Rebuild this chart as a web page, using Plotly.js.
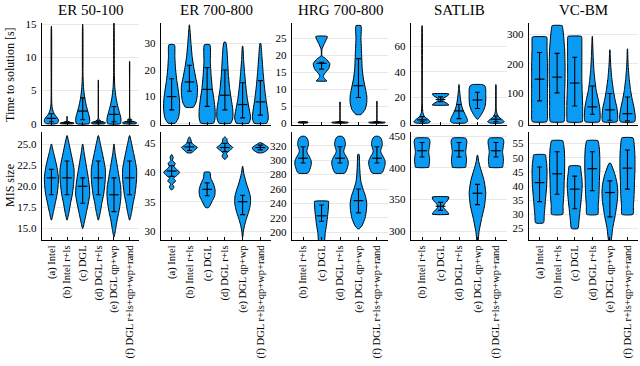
<!DOCTYPE html>
<html><head><meta charset="utf-8">
<script src="https://cdn.plot.ly/plotly-3.0.1.min.js"></script>
<style>html,body{margin:0;padding:0;background:#fff}#chart{width:640px;height:366px}</style>
</head><body><div id="chart"></div>
<script>
// ---------- DATA ----------
const categories = ["(a) Intel","(b) Intel r+ls","(c) DGL","(d) DGL r+ls","(e) DGL qp+wp","(f) DGL r+ls+qp+wp+rand"];
const categoriesNoA = categories.slice(1);
const panelTitles = ["ER 50-100","ER 700-800","HRG 700-800","SATLIB","VC-BM"];

// Each violin: profile levels (Y), relative half-widths (W), and [low, centre, high] of its bar.
// --- Time to solution [s] ---
const er50TimeY = [[0,0.2,0.6,1.0,1.5,2.2,3.0,5,14.7],[0,0.1,0.25,0.5,1.1],[0,0.4,1.0,1.8,2.8,4.0,5.5,7.3,15],[0,0.15,0.4,0.8,6.6],[0,0.4,1.0,1.8,2.8,4.0,5.5,7.5,15.2],[0,0.15,0.4,0.9,9.4]];
const er50TimeW = [[0.7,0.95,1.0,0.75,0.4,0.15,0.06,0.03,0.01],[0.9,1.0,0.3,0.04,0.01],[0.9,1.0,0.95,0.75,0.5,0.28,0.12,0.05,0.01],[0.9,1.0,0.3,0.04,0.01],[0.9,1.0,0.95,0.75,0.5,0.28,0.12,0.05,0.01],[0.9,1.0,0.3,0.04,0.01]];
const er50TimeStats = [[0.3,0.8,1.5],[0.05,0.15,0.3],[0.6,1.9,3.9],[0.1,0.25,0.45],[0.3,1.4,2.6],[0.1,0.3,0.6]];

const er700TimeY = [[0,2,5,8,12,16,20,25,29.5],[6,8,11,14,17,21,25,30,34,37],[0,2,5,9,13,18,23,29.5],[0,2,5,9,13,18,23,28,30.5],[0,2,5,9,14,19,24,29],[0,2,5,9,14,19,25,30]];
const er700TimeW = [[0.45,0.85,1.0,1.0,0.85,0.65,0.5,0.4,0.35],[0.5,0.85,1.0,1.0,0.8,0.55,0.35,0.2,0.1,0.01],[0.8,1.0,1.0,0.85,0.65,0.5,0.4,0.35],[0.75,1.0,1.0,0.8,0.6,0.45,0.35,0.25,0.1],[0.8,1.0,0.85,0.6,0.4,0.25,0.12,0.02],[0.8,1.0,0.9,0.7,0.5,0.35,0.2,0.05]];
const er700TimeStats = [[5,10,16.7],[12,15.5,21.8],[6.3,12.7,20.9],[5,10.5,20],[2,7,15.2],[3,8,16]];

const hrgTimeY = [[0.05,0.2,0.4],[12.4,13.0,13.7,14.5,16,17.5,19,19.8,21.7,23.5,25.5],[0,0.2,0.5,6.2],[2.5,4,6,8,10,13,16,19,22,25,28.7],[0,0.2,0.5,6.4]];
const hrgTimeW = [[0.6,0.6,0.05],[0.65,0.4,0.2,0.35,0.85,1.0,0.5,0.05,0.05,0.35,0.7],[0.9,1.0,0.05,0.02],[0.3,0.8,1.0,1.0,0.85,0.6,0.45,0.4,0.35,0.3,0.3],[0.9,1.0,0.05,0.02]];
const hrgTimeStats = [[0.1,0.2,0.3],[15.9,17.6,17.9],[0.1,0.2,0.35],[7.5,11,19],[0.1,0.2,0.35]];

const satTimeY = [[0,1,3,5,8,15,76],[14.1,15.5,17,18.4,19.5,21,22.7],[0,1,3,6,10,14,18,22,26,30],[3,6,10,14,18,22,26,29,30],[0,1,3,5,8,12,30]];
const satTimeW = [[0.7,1.0,0.7,0.3,0.1,0.03,0.01],[1.0,0.75,0.35,0.25,0.35,0.8,1.0],[0.7,1.0,1.0,0.8,0.5,0.3,0.2,0.12,0.06,0.01],[0.05,0.4,0.75,0.95,1.0,1.0,1.0,0.9,0.6],[0.7,1.0,0.7,0.3,0.1,0.03,0.01]];
const satTimeStats = [[1,2.5,5],[16.7,18.4,20.4],[3.5,9.5,14.5],[11.4,18,24],[1,3,5.5]];

const vcTimeY = [[5,15,50,100,150,200,250,285,290],[5,20,60,100,150,200,250,300,320,328],[5,20,60,100,150,200,250,285,292],[5,20,50,80,110,140,180,220,260,292],[5,20,50,80,110,150,190,220,247],[5,20,50,80,110,150,190,220,250]];
const vcTimeW = [[0.9,1.0,1.0,1.0,1.0,1.0,0.95,0.95,0.9],[0.85,0.95,0.95,0.95,1.0,1.0,0.95,0.8,0.7,0.65],[0.95,1.0,1.0,0.95,0.9,0.9,0.9,0.9,0.85],[0.9,1.0,0.95,0.75,0.5,0.35,0.2,0.12,0.06,0.01],[0.9,1.0,0.9,0.65,0.45,0.25,0.12,0.06,0.01],[0.9,1.0,0.85,0.6,0.4,0.22,0.1,0.05,0.01]];
const vcTimeStats = [[75,148,238],[102,155,235],[58,135,222],[30,55,125],[10,45,100],[8,32,88]];

// --- MIS size ---
const er50MisY = [[16,17,18,19,20,21,22,23,24,25],[16,17,18,19,20,21,22,23,24,25,26],[15,16,17,18,19,20,21,22,23,24,25],[16,17,18,19,20,21,22,23,24,25,26],[14,15,16,17,18,19,20,21,22,23,24,25],[16,17,18,19,20,21,22,23,24,25,26]];
const er50MisW = [[0.02,0.3,0.55,0.8,0.95,1.0,0.85,0.6,0.3,0.02],[0.02,0.3,0.5,0.75,0.9,1.0,1.0,0.8,0.55,0.3,0.02],[0.02,0.3,0.55,0.8,1.0,0.95,0.8,0.6,0.4,0.2,0.02],[0.02,0.3,0.5,0.75,0.9,1.0,1.0,0.8,0.55,0.3,0.02],[0.02,0.25,0.45,0.7,0.9,1.0,0.95,0.75,0.55,0.35,0.15,0.02],[0.02,0.3,0.5,0.75,0.9,1.0,1.0,0.8,0.55,0.3,0.02]];
const er50MisStats = [[19,21,22],[19,21,23],[18,20,21],[19,21,23],[17,19,21],[19,21,23]];

const er700MisY = [[37,37.5,38,38.5,39,39.5,40,40.5,41,41.5,42,42.5,43],[43.3,43.7,44.2,44.6,45,45.5,46],[34,35,36,37,38,39,40],[42.2,42.7,43.2,43.7,44.2,44.7,45.2,45.7,46],[29,30,31,32,33,34,35,36,37,38,39,40,41],[43.3,43.8,44.2,44.6,45]];
const er700MisW = [[0.05,0.3,0.1,0.5,0.25,0.7,1.0,0.6,0.3,0.45,0.1,0.2,0.02],[0.3,0.6,1.0,0.6,0.3,0.2,0.02],[0.2,0.6,0.95,1.0,0.8,0.45,0.35],[0.05,0.35,0.2,0.6,1.0,0.55,0.3,0.25,0.02],[0.02,0.1,0.25,0.45,0.7,0.9,1.0,0.95,0.75,0.5,0.3,0.12,0.02],[0.3,0.9,1.0,0.6,0.1]];
const er700MisStats = [[39.3,40.2,41.1],[43.7,44.3,45],[36,37.1,38.2],[43.5,44.2,44.9],[32.8,35,36.1],[43.8,44.2,44.6]];

const hrgMisY = [[282,285,290,295,300,305,310,313,317,322,327,331,333],[185,200,210,220,230,240,243],[282,285,290,295,300,305,310,313,317,322,327,331,333],[205,210,220,230,240,250,260,270,280,290,300,308],[282,285,290,295,300,305,310,313,317,322,327,331,333]];
const hrgMisW = [[0.55,0.75,0.9,1.0,0.95,0.75,0.5,0.45,0.55,0.65,0.6,0.45,0.2],[0.3,0.45,0.6,0.7,0.8,0.85,0.85],[0.55,0.75,0.9,1.0,0.95,0.75,0.5,0.45,0.55,0.65,0.6,0.45,0.2],[0.1,0.45,0.8,0.95,1.0,0.85,0.55,0.3,0.2,0.15,0.12,0.08],[0.55,0.75,0.9,1.0,0.95,0.75,0.5,0.45,0.55,0.65,0.6,0.45,0.2]];
const hrgMisStats = [[296,302.7,318.6],[215.4,223,238],[296,302.7,318.6],[227,244,260],[296,302.7,318.6]];

const satMisY = [[401,405,410,415,420,425,430,435,440,445,447],[327,331,335,339,343,347,351,354],[401,405,410,415,420,425,430,435,440,445,447],[280,300,320,340,360,380,400,410,420],[401,405,410,415,420,425,430,435,440,445,447]];
const satMisW = [[0.8,0.85,0.9,0.9,0.85,0.8,0.85,0.9,0.95,0.9,0.75],[1.0,0.8,0.5,0.3,0.45,0.75,0.95,1.0],[0.8,0.85,0.9,0.9,0.85,0.8,0.85,0.9,0.95,0.9,0.75],[0.02,0.2,0.5,0.85,1.0,0.8,0.35,0.15,0.02],[0.8,0.85,0.9,0.9,0.85,0.8,0.85,0.9,0.95,0.9,0.75]];
const satMisStats = [[417,427,440],[333,339.5,345.6],[417,427,440],[342,360,374],[417,427,440]];

const vcMisY = [[27,30,35,40,45,48,50,51],[30,33,37,42,46,50,53,55,56],[25,28,32,36,40,43,45,47],[30,33,37,42,46,50,53,55,56],[20,25,30,35,38,41,44,46,48],[30,33,37,42,46,50,53,56,57]];
const vcMisW = [[0.5,0.6,0.75,0.9,0.95,0.9,0.8,0.75],[0.7,0.75,0.85,0.9,0.95,0.95,0.9,0.8,0.7],[0.4,0.55,0.7,0.85,0.95,0.9,0.8,0.7],[0.7,0.75,0.85,0.9,0.95,0.95,0.9,0.8,0.7],[0.1,0.35,0.7,0.95,1.0,0.9,0.65,0.4,0.1],[0.7,0.75,0.85,0.9,0.95,0.95,0.9,0.8,0.7]];
const vcMisStats = [[34.5,41.2,46.7],[37.1,44.3,52.1],[32,38.9,43.5],[38.3,46.1,52.1],[29.1,37.7,41.8],[38.9,46.3,52.7]];

// Axis tick settings
const timeTicks = [[0,5,10,15],[0,10,20,30],[0,5,10,15,20,25],[0,20,40,60],[0,100,200,300]];
const misTicks = [[15,17.5,20,22.5,25],[30,35,40,45],[200,220,240,260,280,300,320],[300,350,400,450],[25,30,35,40,45,50,55]];
const timeRanges = [[-0.2,15.2],[-0.7,37.7],[-0.6,29.5],[-1.5,78],[-6,337]];
const misRanges = [[13.64,26.43],[28.5,46.83],[189.5,339],[286.3,456.5],[20.95,59.05]];

// ---------- LAYOUT / DRAWING ----------
const W = 640, H = 366;
const FILL = '#0a9bf5';
const HW = 0.45;
const FONT = 'Liberation Serif, Times New Roman, serif';
const colPx = [[42,139],[161,271],[292,388],[411,507],[529,638]];
const rowPx = [[23,125],[132,240]];

const panels = [
  {Y:er50TimeY,W:er50TimeW,S:er50TimeStats,cats:categories},
  {Y:er700TimeY,W:er700TimeW,S:er700TimeStats,cats:categories},
  {Y:hrgTimeY,W:hrgTimeW,S:hrgTimeStats,cats:categoriesNoA},
  {Y:satTimeY,W:satTimeW,S:satTimeStats,cats:categoriesNoA},
  {Y:vcTimeY,W:vcTimeW,S:vcTimeStats,cats:categories},
  {Y:er50MisY,W:er50MisW,S:er50MisStats,cats:categories},
  {Y:er700MisY,W:er700MisW,S:er700MisStats,cats:categories},
  {Y:hrgMisY,W:hrgMisW,S:hrgMisStats,cats:categoriesNoA},
  {Y:satMisY,W:satMisW,S:satMisStats,cats:categoriesNoA},
  {Y:vcMisY,W:vcMisW,S:vcMisStats,cats:categories}
];

const traces = [];
const layout = {
  width: W, height: H, margin:{l:0,r:0,t:0,b:0},
  paper_bgcolor:'#fff', plot_bgcolor:'#fff', showlegend:false,
  font:{family:FONT, size:11, color:'#000'},
  annotations:[]
};

panels.forEach((p, idx) => {
  const row = Math.floor(idx/5), col = idx%5;
  const k = idx+1;
  const xa = 'x'+(k===1?'':k), ya = 'y'+(k===1?'':k);
  const n = p.cats.length;
  const xi = p.cats.map((_,i)=>i);
  p.Y.forEach((ys, i) => {
    const ws = p.W[i];
    const xs=[], yy=[];
    for (let j=0;j<ys.length;j++){ xs.push(i + HW*ws[j]); yy.push(ys[j]); }
    for (let j=ys.length-1;j>=0;j--){ xs.push(i - HW*ws[j]); yy.push(ys[j]); }
    xs.push(xs[0]); yy.push(yy[0]);
    traces.push({type:'scatter', mode:'lines', x:xs, y:yy, xaxis:xa, yaxis:ya,
      fill:'toself', fillcolor:FILL, line:{color:'#000', width:1, shape:'spline', smoothing:0.5},
      hoverinfo:'skip'});
  });
  traces.push({type:'scatter', mode:'markers', x:xi, y:p.S.map(s=>s[1]), xaxis:xa, yaxis:ya,
    marker:{symbol:'line-ew', size:7, color:'#000', line:{color:'#000', width:1.2}},
    error_y:{type:'data', symmetric:false, array:p.S.map(s=>s[2]-s[1]), arrayminus:p.S.map(s=>s[1]-s[0]),
      color:'#000', thickness:1.1, width:2.5},
    hoverinfo:'skip'});

  const cp = colPx[col], rp = rowPx[row];
  const xKey = 'xaxis'+(k===1?'':k), yKey = 'yaxis'+(k===1?'':k);
  layout[xKey] = {
    domain:[cp[0]/W, cp[1]/W], anchor:ya, range:[-0.6, n-0.4],
    tickvals:xi, ticktext:p.cats, showticklabels: row===1, tickangle:-90,
    tickfont:{size:10.5, family:FONT}, ticks:'inside', ticklen:3, tickcolor:'#000',
    showgrid:false, zeroline:false, showline:true, linecolor:'#000', linewidth:1.2, fixedrange:true
  };
  const ticks = row===0 ? timeTicks[col] : misTicks[col];
  layout[yKey] = {
    domain:[1-rp[1]/H, 1-rp[0]/H], anchor:xa,
    range: row===0 ? timeRanges[col] : misRanges[col],
    tickvals:ticks, ticktext: (row===1 && col===0) ? ticks.map(v=>v.toFixed(1)) : ticks.map(String),
    tickfont:{size:11, family:FONT}, ticks:'', showgrid:true, gridcolor:'#e8e8e8', gridwidth:1,
    zeroline:false, showline:true, linecolor:'#000', linewidth:1.2, fixedrange:true, ticklabelstandoff:2
  };
  if (row===0) {
    layout.annotations.push({text:panelTitles[col], xref:'paper', yref:'paper',
      x:(cp[0]+cp[1])/2/W, y:1-10/H, xanchor:'center', yanchor:'middle', showarrow:false,
      font:{size:15, family:FONT}});
  }
});

layout.annotations.push({text:'Time to solution [s]', xref:'paper', yref:'paper', x:10/W, y:1-75/H,
  xanchor:'center', yanchor:'middle', textangle:-90, showarrow:false, font:{size:12, family:FONT}});
layout.annotations.push({text:'MIS size', xref:'paper', yref:'paper', x:10/W, y:1-186/H,
  xanchor:'center', yanchor:'middle', textangle:-90, showarrow:false, font:{size:12, family:FONT}});

Plotly.newPlot('chart', traces, layout, {displayModeBar:false, staticPlot:true});
</script></body></html>
